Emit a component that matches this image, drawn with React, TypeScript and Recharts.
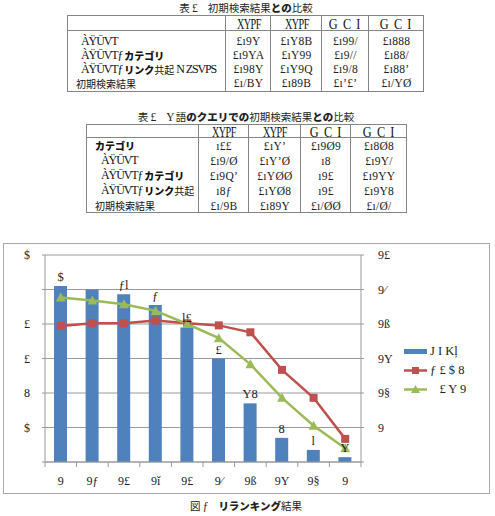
import React from 'react';
import {
  ComposedChart,
  Bar,
  Line,
  XAxis,
  YAxis,
  CartesianGrid,
  LabelList,
  Legend,
} from 'recharts';

// ---------- chart data ----------
const categories = ['9', '9ƒ', '9£', '9ǐ', '9£', '9⁄', '9ß', '9Y', '9§', '9'];
const barValues = [5.1, 5.0, 4.86, 4.55, 3.9, 3.0, 1.7, 0.7, 0.35, 0.14];
const barLabels = ['$', '', 'ƒl', 'ƒ', 'l£', '£', 'Y8', '8', 'l', 'Y'];
const redValues = [3.94, 4.02, 4.02, 4.1, 4.02, 3.96, 3.76, 2.67, 1.86, 0.67];
const greenValues = [4.77, 4.68, 4.57, 4.38, 4.0, 3.59, 2.83, 1.86, 1.05, 0.4];
const yTicks = [0, 1, 2, 3, 4, 5, 6];
const leftTickLabels = ['', '$', '8', '£', '£', '', '$'];
const rightTickLabels = ['', '9', '9§', '9Y', '9ß', '9⁄', '9£'];
const xTicks = [0, 0.5, 1, 1.5, 2, 2.5, 3, 3.5, 4, 4.5, 5, 5.5, 6, 6.5, 7, 7.5, 8, 8.5, 9, 9.5, 10];
const seriesKeys = ['share', 'red', 'green'];
const seriesNames = ['J I Kļ', 'ƒ £ $ 8', '   £ Y 9'];

// ---------- table data ----------
const table1Caption = '表 £　初期検索結果との比較';
const table1Header = ['XYPF', 'XYPF', 'G C I', 'G C I'];
const table1RowLabels = ['ÀŸŪVT', 'ÀŸŪVTƒ カテゴリ', 'ÀŸŪVTƒ リンク共起 N ZSVPS', '初期検索結果'];
const table1Values = [
  ['£ı9Y', '£ıY8B', '£ı99/', '£ı888'],
  ['£ı9YA', '£ıY99', '£ı9//', '£ı88/'],
  ['£ı98Y', '£ıY9Q', '£ı9/8', '£ı88ʼ'],
  ['£ı/BY', '£ı89B', '£ıʼ£ʼ', '£ı/YØ'],
];
const table2Caption = '表 £　Y 語のクエリでの初期検索結果との比較';
const table2Header = ['XYPF', 'XYPF', 'G C I', 'G C I'];
const table2RowLabels = ['カテゴリ', 'ÀŸŪVT', 'ÀŸŪVTƒ カテゴリ', 'ÀŸŪVTƒ リンク共起', '初期検索結果'];
const table2Values = [
  ['ı££', '£ıYʼ', '£ı9Ø9', '£ı8Ø8'],
  ['£ı9/Ø', '£ıYʼØ', 'ı8', '£ı9Y/'],
  ['£ı9Qʼ', '£ıYØØ', 'ı9£', '£ı9YY'],
  ['ı8ƒ', '£ıYØ8', 'ı9£', '£ı9Y8'],
  ['£ı/9B', '£ı89Y', '£ı/ØØ', '£ı/Ø/'],
];
const figureCaption = '図 ƒ　リランキング結果';

// ---------- styling ----------
const SERIF = '"Liberation Serif", "DejaVu Serif", serif';
const JP = '"Noto Sans CJK JP", sans-serif';
const BLUE = '#4F81BD';
const RED = '#C0504D';
const GREEN = '#9BBB59';
const GRID = '#9a9a9a';
const TABLE_LINE = '#858585';

const chartData = categories.map((c, i) => ({
  pos: i + 0.5,
  name: c,
  share: barValues[i],
  tag: barLabels[i],
  red: redValues[i],
  green: greenValues[i],
}));

// Mixed-script text: kana in heavy gothic, kanji in regular gothic, the rest in serif.
const KANA = /[\u3040-\u30ff]/;
const CJK = /[\u3000-\u303f\u4e00-\u9fff]/;
function Rich({ text, size = 10, latinSize = 12, latinSpacing = -0.6 }: { text: string; size?: number; latinSize?: number; latinSpacing?: number }) {
  const runs: { kind: string; t: string }[] = [];
  for (const ch of text) {
    const kind = KANA.test(ch) ? 'k' : CJK.test(ch) ? 'c' : 'l';
    const last = runs[runs.length - 1];
    if (last && last.kind === kind) last.t += ch;
    else runs.push({ kind, t: ch });
  }
  return (
    <>
      {runs.map((r, i) => {
        const st: React.CSSProperties =
          r.kind === 'k'
            ? { fontFamily: JP, fontWeight: 900, fontSize: size }
            : r.kind === 'c'
            ? { fontFamily: JP, fontWeight: 400, fontSize: size }
            : { fontFamily: SERIF, fontSize: latinSize, letterSpacing: latinSpacing };
        return (
          <span key={i} style={{ ...st, whiteSpace: 'pre' }}>
            {r.t}
          </span>
        );
      })}
    </>
  );
}

type TableProps = {
  top: number;
  edges: number[];
  headerH: number;
  padTop: number;
  rowH: number;
  padBottom: number;
  header: string[];
  labels: string[];
  values: string[][];
  labelPad: number;
  indentPad: number;
};

function DataTable(p: TableProps) {
  const left = p.edges[0];
  const right = p.edges[p.edges.length - 1];
  const bodyTop = p.top + p.headerH;
  const bottom = bodyTop + p.padTop + p.rowH * p.labels.length + p.padBottom;
  const cells: React.ReactNode[] = [];
  p.header.forEach((h, c) => {
    const spaced = h.includes(' ');
    cells.push(
      <div
        key={'h' + c}
        style={{
          position: 'absolute',
          left: p.edges[c + 1],
          width: p.edges[c + 2] - p.edges[c + 1],
          top: p.top + 1,
          height: p.headerH - 1,
          display: 'flex',
          alignItems: 'center',
          justifyContent: 'center',
          color: '#111',
        }}
      >
        <span
          style={{
            display: 'inline-block',
            fontFamily: SERIF,
            fontSize: 14.5,
            lineHeight: '14px',
            letterSpacing: spaced ? 1.2 : -0.8,
            whiteSpace: 'pre',
            transform: spaced ? 'scaleX(0.85)' : 'scaleX(0.7)',
          }}
        >
          {h}
        </span>
      </div>
    );
  });
  p.labels.forEach((lab, r) => {
    const y = bodyTop + p.padTop + r * p.rowH;
    cells.push(
      <div
        key={'l' + r}
        style={{
          position: 'absolute',
          left: left + (lab.startsWith('À') ? p.indentPad : p.labelPad),
          top: y,
          height: p.rowH,
          display: 'flex',
          alignItems: 'center',
          color: '#111',
          whiteSpace: 'pre',
        }}
      >
        <Rich text={lab} latinSize={12} latinSpacing={-1.1} />
      </div>
    );
    p.values[r].forEach((v, c) => {
      cells.push(
        <div
          key={'v' + r + '-' + c}
          style={{
            position: 'absolute',
            left: p.edges[c + 1],
            width: p.edges[c + 2] - p.edges[c + 1],
            top: y,
            height: p.rowH,
            display: 'flex',
            alignItems: 'center',
            justifyContent: 'center',
            fontFamily: SERIF,
            fontSize: 11.5,
            letterSpacing: 0.3,
            color: '#222',
            whiteSpace: 'pre',
          }}
        >
          {v}
        </div>
      );
    });
  });
  return (
    <>
      <div
        style={{
          position: 'absolute',
          left,
          top: p.top,
          width: right - left,
          height: bottom - p.top,
          border: `1.5px solid ${TABLE_LINE}`,
          boxSizing: 'border-box',
        }}
      />
      <div
        style={{
          position: 'absolute',
          left,
          top: bodyTop - 0.75,
          width: right - left,
          height: 0,
          borderTop: `1.5px solid ${TABLE_LINE}`,
        }}
      />
      {p.edges.slice(1, -1).map((x, i) => (
        <div
          key={'c' + i}
          style={{
            position: 'absolute',
            left: x - 0.75,
            top: p.top,
            width: 0,
            height: bottom - p.top,
            borderLeft: `1.5px solid ${TABLE_LINE}`,
          }}
        />
      ))}
      {cells}
    </>
  );
}

function Caption({ text, top, center }: { text: string; top: number; center: number }) {
  return (
    <div
      style={{
        position: 'absolute',
        left: center - 200,
        width: 400,
        top,
        height: 12,
        display: 'flex',
        alignItems: 'center',
        justifyContent: 'center',
        lineHeight: '12px',
        color: '#222',
      }}
    >
      <Rich text={text} size={10.5} latinSize={11.5} />
    </div>
  );
}

// x axis: integer positions carry the boundary tick marks, half positions carry the labels
const XTick = (props: any) => {
  const { x, y, payload } = props;
  const v = payload.value as number;
  if (Number.isInteger(v)) {
    return <line x1={x} x2={x} y1={y} y2={y + 5} stroke={GRID} strokeWidth={1} />;
  }
  return (
    <text x={x} y={y + 23} textAnchor="middle" fontFamily={SERIF} fontSize={12} fill="#222">
      {categories[Math.floor(v)]}
    </text>
  );
};

const SquareDot = (props: any) => {
  const { cx, cy, index } = props;
  if (cx == null || cy == null) return <g key={index} />;
  return <rect key={index} x={cx - 4} y={cy - 4} width={8} height={8} fill={RED} />;
};

const TriangleDot = (props: any) => {
  const { cx, cy, index } = props;
  if (cx == null || cy == null) return <g key={index} />;
  return (
    <polygon
      key={index}
      points={`${cx},${cy - 5} ${cx + 5},${cy + 4} ${cx - 5},${cy + 4}`}
      fill={GREEN}
    />
  );
};

const LegendBox = (props: any) => {
  const items: any[] = [...(props.payload || [])].sort(
    (a, b) => seriesKeys.indexOf(a.dataKey) - seriesKeys.indexOf(b.dataKey)
  );
  return (
    <div style={{ fontFamily: SERIF, fontSize: 12.5, color: '#222' }}>
      {items.map((it, i) => {
        let icon: React.ReactNode;
        if (it.dataKey === 'share') {
          icon = <rect x={0} y={4} width={23} height={5} fill={it.color} />;
        } else if (it.dataKey === 'red') {
          icon = (
            <>
              <line x1={0} x2={23} y1={6.5} y2={6.5} stroke={it.color} strokeWidth={2.5} />
              <rect x={8} y={3} width={7} height={7} fill={it.color} />
            </>
          );
        } else {
          icon = (
            <>
              <line x1={0} x2={23} y1={6.5} y2={6.5} stroke={it.color} strokeWidth={2.5} />
              <polygon points="11.5,2 16,10 7,10" fill={it.color} />
            </>
          );
        }
        return (
          <div key={i} style={{ display: 'flex', alignItems: 'center', height: 19 }}>
            <svg width={25} height={13}>
              {icon}
            </svg>
            <span style={{ whiteSpace: 'pre', marginLeft: 1 }}>{it.value}</span>
          </div>
        );
      })}
    </div>
  );
};

export default function App() {
  return (
    <div
      style={{
        position: 'absolute',
        left: 0,
        top: 0,
        width: 495,
        height: 516,
        background: '#fff',
        overflow: 'hidden',
      }}
    >
      <Caption text={table1Caption} top={2} center={246} />
      <DataTable
        top={15}
        edges={[67, 226, 271, 322, 369, 424]}
        headerH={16}
        padTop={3}
        rowH={14}
        padBottom={2}
        header={table1Header}
        labels={table1RowLabels}
        values={table1Values}
        labelPad={9}
        indentPad={14}
      />

      <Caption text={table2Caption} top={111} center={246} />
      <DataTable
        top={124}
        edges={[86, 199, 249, 301, 351, 407]}
        headerH={14}
        padTop={0}
        rowH={15}
        padBottom={0}
        header={table2Header}
        labels={table2RowLabels}
        values={table2Values}
        labelPad={9}
        indentPad={15}
      />

      {/* chart frame */}
      <div
        style={{
          position: 'absolute',
          left: 3,
          top: 243,
          width: 487,
          height: 251,
          border: '1px solid #a9a9a9',
          boxSizing: 'border-box',
        }}
      />
      <div style={{ position: 'absolute', left: 0, top: 243 }}>
        <ComposedChart
          width={495}
          height={254}
          data={chartData}
          margin={{ top: 12, right: 0, bottom: 0, left: 0 }}
        >
          <CartesianGrid yAxisId="left" vertical={false} stroke={GRID} strokeWidth={1} />
          <XAxis
            dataKey="pos"
            type="number"
            domain={[0, 10]}
            allowDataOverflow
            ticks={xTicks}
            interval={0}
            tick={<XTick />}
            tickLine={false}
            tickSize={0}
            tickMargin={0}
            height={35}
            axisLine={{ stroke: GRID }}
          />
          <YAxis
            yAxisId="left"
            domain={[0, 6]}
            ticks={yTicks}
            interval={0}
            width={45}
            tickSize={3}
            tickMargin={12}
            axisLine={{ stroke: GRID }}
            tickLine={{ stroke: GRID }}
            tickFormatter={(v: number) => leftTickLabels[v]}
            tick={{ fontFamily: SERIF, fontSize: 12, fill: '#222' }}
          />
          <YAxis
            yAxisId="right"
            orientation="right"
            domain={[0, 6]}
            ticks={yTicks}
            interval={0}
            width={134}
            tickSize={3}
            tickMargin={14}
            axisLine={{ stroke: GRID }}
            tickLine={{ stroke: GRID }}
            tickFormatter={(v: number) => rightTickLabels[v]}
            tick={{ fontFamily: SERIF, fontSize: 12, fill: '#222' }}
          />
          <Bar
            yAxisId="left"
            dataKey="share"
            name={seriesNames[0]}
            fill={BLUE}
            barSize={13}
            isAnimationActive={false}
          >
            <LabelList
              dataKey="tag"
              position="top"
              offset={5}
              fill="#222"
              fontFamily={SERIF}
              fontSize={12.5}
            />
          </Bar>
          <Line
            yAxisId="right"
            dataKey="red"
            name={seriesNames[1]}
            stroke={RED}
            strokeWidth={2.5}
            dot={SquareDot}
            activeDot={false}
            isAnimationActive={false}
          />
          <Line
            yAxisId="right"
            dataKey="green"
            name={seriesNames[2]}
            stroke={GREEN}
            strokeWidth={2.5}
            dot={TriangleDot}
            activeDot={false}
            isAnimationActive={false}
          />
          <Legend
            layout="vertical"
            align="center"
            verticalAlign="middle"
            wrapperStyle={{ left: 404, top: 99, width: 88 }}
            content={LegendBox}
          />
        </ComposedChart>
      </div>

      <Caption text={figureCaption} top={500} center={246} />
    </div>
  );
}
